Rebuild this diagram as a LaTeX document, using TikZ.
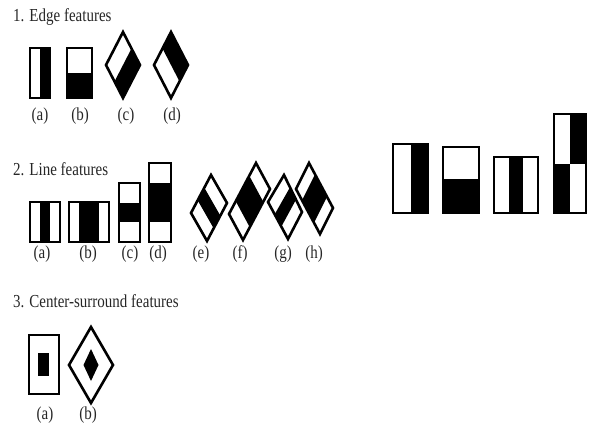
\documentclass[tikz,border=0pt]{standalone}
\usepackage{fontspec}
\setmainfont{Liberation Serif}
\usepackage{graphicx}
\usepackage{tikz}
\usetikzlibrary{calc}

% taller letters, as in the scanned figure
\newcommand{\tallt}[1]{\scalebox{1}[1.22]{#1}}

\begin{document}
\begin{tikzpicture}[x=1pt, y=-1pt,
  feat/.style={draw=black, line width=2.6pt, line join=miter},
  title/.style={anchor=base west, font=\fontsize{15}{18}\selectfont, text=black!85, inner sep=0pt},
  tag/.style={font=\fontsize{15}{18}\selectfont, text=black!85, inner sep=0pt}]
\useasboundingbox (0,0) rectangle (589,430);

% 1. Edge features
\node[title] (edgetitle) at (13,22) {\tallt{1. Edge features}};
\fill[black] (40,48) rectangle (50,98);
\draw[feat] (30,48) rectangle (50,98);
\fill[black] (67,73) rectangle (92,98);
\draw[feat] (67,48) rectangle (92,98);
% tilted edge features
\foreach \n/\cx in {c/123, d/171} {
  \coordinate (\n T) at (\cx,32);
  \coordinate (\n L) at (\cx-17,65);
  \coordinate (\n B) at (\cx,98);
  \coordinate (\n R) at (\cx+17,65);
}
\fill[black] ($(cT)!0.5!(cR)$) -- (cR) -- (cB) -- ($(cL)!0.5!(cB)$) -- cycle;
\draw[feat] (cT) -- (cR) -- (cB) -- (cL) -- cycle;
\fill[black] ($(dL)!0.5!(dT)$) -- (dT) -- (dR) -- ($(dB)!0.5!(dR)$) -- cycle;
\draw[feat] (dT) -- (dR) -- (dB) -- (dL) -- cycle;
\foreach \x/\l in {40/a, 80/b, 126/c, 172/d} {
  \node[tag] (edge\l) at (\x,116) {\tallt{(\l)}};
}

% 2. Line features
\node[title] (linetitle) at (13,176) {\tallt{2. Line features}};
\fill[black] (40,202) rectangle (50,242);
\draw[feat] (30,202) rectangle (60,242);
\fill[black] (79,202) rectangle (99,242);
\draw[feat] (69,202) rectangle (109,242);
\fill[black] (119,202.7) rectangle (140,222.3);
\draw[feat] (119,183) rectangle (140,242);
\fill[black] (149,182.8) rectangle (171,222.2);
\draw[feat] (149,163) rectangle (171,242);
% tilted line features: corners T, R, B, L
\foreach \n/\t/\r/\b/\l in {e/{211,175}/{227,203}/{207,241}/{191,213},
                              f/{256,163}/{270,189}/{243,240}/{229,214},
                              g/{284,175}/{302,212}/{288,239}/{268,202},
                              h/{309,163}/{333,208}/{320,234}/{296,189}} {
  \coordinate (\n T) at (\t);
  \coordinate (\n R) at (\r);
  \coordinate (\n B) at (\b);
  \coordinate (\n L) at (\l);
}
\fill[black] ($(eL)!1/3!(eT)$) -- ($(eL)!2/3!(eT)$) -- ($(eB)!2/3!(eR)$) -- ($(eB)!1/3!(eR)$) -- cycle;
\fill[black] ($(fL)!1/4!(fT)$) -- ($(fL)!3/4!(fT)$) -- ($(fB)!3/4!(fR)$) -- ($(fB)!1/4!(fR)$) -- cycle;
\fill[black] ($(gT)!1/3!(gR)$) -- ($(gT)!2/3!(gR)$) -- ($(gL)!2/3!(gB)$) -- ($(gL)!1/3!(gB)$) -- cycle;
\fill[black] ($(hT)!1/4!(hR)$) -- ($(hT)!3/4!(hR)$) -- ($(hL)!3/4!(hB)$) -- ($(hL)!1/4!(hB)$) -- cycle;
\foreach \n in {e,f,g,h} {
  \draw[feat] (\n T) -- (\n R) -- (\n B) -- (\n L) -- cycle;
}
\foreach \x/\l in {42/a, 88/b, 130/c, 158/d, 201/e, 240/f, 283/g, 314/h} {
  \node[tag] (line\l) at (\x,254) {\tallt{(\l)}};
}

% 3. Center-surround features
\node[title] (centertitle) at (13,308) {\tallt{3. Center-surround features}};
\fill[black] (38,353) rectangle (49,376);
\draw[feat] (29,335) rectangle (59,394);
\fill[black] (91,349) -- (98.5,365) -- (91,381) -- (83.5,365) -- cycle;
\draw[feat] (91,327) -- (113,365) -- (91,403) -- (69,365) -- cycle;
\node[tag] (centera) at (45,415) {\tallt{(a)}};
\node[tag] (centerb) at (88,415) {\tallt{(b)}};

% Example features on the right
\fill[black] (410.5,144) rectangle (428,213);
\draw[feat] (393,144) rectangle (428,213);
\fill[black] (443,179) rectangle (479,213);
\draw[feat] (443,147) rectangle (479,213);
\fill[black] (508.7,157) rectangle (523.3,213);
\draw[feat] (494,157) rectangle (538,213);
\fill[black] (570,114) rectangle (586,164);
\fill[black] (554,164) rectangle (570,213);
\draw[feat] (554,114) rectangle (586,213);
\end{tikzpicture}
\end{document}
